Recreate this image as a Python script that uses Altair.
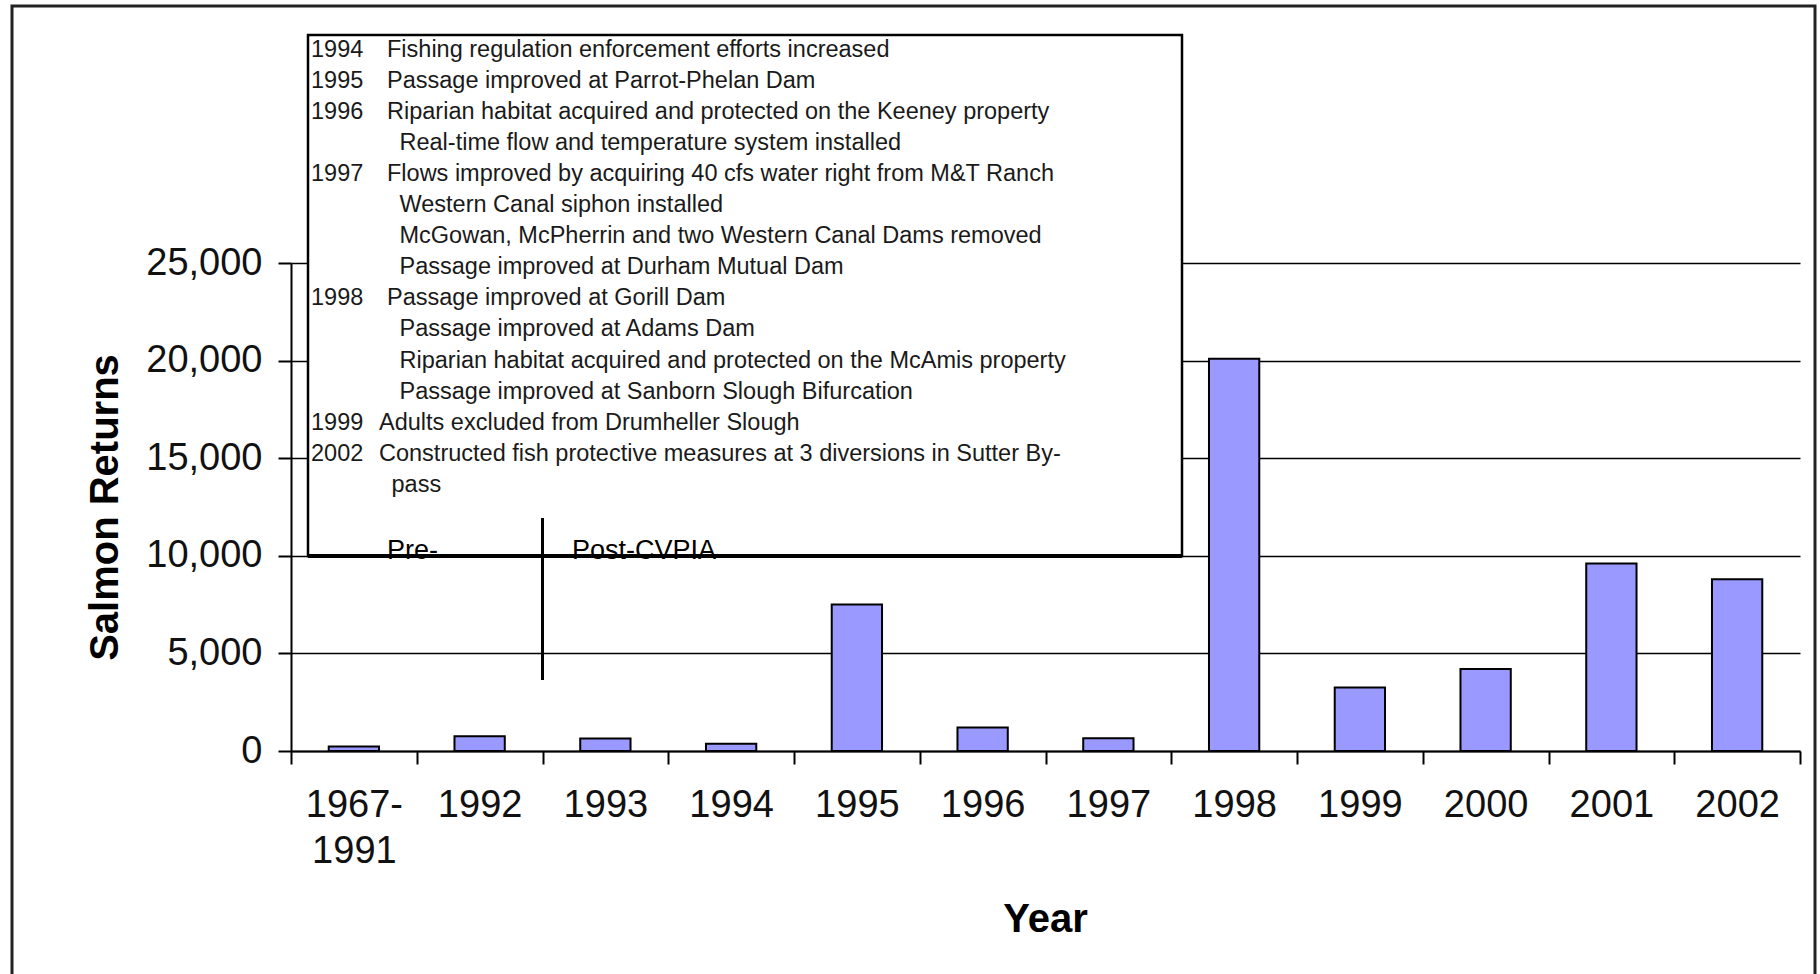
import altair as alt
import pandas as pd

# Salmon returns by year (first category is the 1967-1991 average)
years = ["1967-1991", "1992", "1993", "1994", "1995", "1996",
         "1997", "1998", "1999", "2000", "2001", "2002"]
salmon_returns = [230, 760, 640, 370, 7500, 1200, 650, 20100, 3250, 4200, 9600, 8800]
y_ticks = [0, 5000, 10000, 15000, 20000, 25000]

# Restoration actions listed in the annotation box
note_years = ["1994", "1995", "1996", "1997", "1998", "1999", "2002"]
note_items = [
    ["Fishing regulation enforcement efforts increased"],
    ["Passage improved at Parrot-Phelan Dam"],
    ["Riparian habitat acquired and protected on the Keeney property",
     "Real-time flow and temperature system installed"],
    ["Flows improved by acquiring 40 cfs water right from M&T Ranch",
     "Western Canal siphon installed",
     "McGowan, McPherrin and two Western Canal Dams removed",
     "Passage improved at Durham Mutual Dam"],
    ["Passage improved at Gorill Dam",
     "Passage improved at Adams Dam",
     "Riparian habitat acquired and protected on the McAmis property",
     "Passage improved at Sanborn Slough Bifurcation"],
    ["Adults excluded from Drumheller Slough"],
    ["Constructed fish protective measures at 3 diversions in Sutter By-",
     "pass"],
]
period_labels = ["Pre-", "Post-CVPIA"]

# ---- layout (pixels) ----
W, H = 1509, 488          # plot area
LEFT, TOP = 291, 263      # plot origin on the page
FONT = "Liberation Sans"


def px(x):
    return x - LEFT


def py(y):
    return y - TOP


one = pd.DataFrame({"k": [0]})

# outer chart frame
frame = alt.Chart(one).mark_rect(fillOpacity=0, stroke="#222222", strokeWidth=3).encode(
    x=alt.value(px(12)), x2=alt.value(px(1815)),
    y=alt.value(py(6)), y2=alt.value(py(995)),
)

# bars
bars_df = pd.DataFrame({"Year": years, "Returns": salmon_returns})
bars = alt.Chart(bars_df).mark_bar(
    width=alt.RelativeBandSize(0.4), color="#9999FF", stroke="black", strokeWidth=2
).encode(
    x=alt.X("Year:N", sort=years,
            scale=alt.Scale(domain=years, paddingInner=0, paddingOuter=0),
            axis=alt.Axis(
                title="Year", labelFontSize=38, labelColor="#111111", labelAngle=0,
                labelPadding=22, labelLineHeight=46,
                labelExpr="datum.value == '1967-1991' ? ['1967-', '1991'] : datum.label",
                tickBand="extent", tickSize=13, tickWidth=2, tickColor="black",
                domainColor="black", domainWidth=2, grid=False,
                titleFontSize=40, titleFontWeight="bold", titleColor="black",
                titleX=754, titleY=180, titleAlign="center", titleBaseline="alphabetic",
            )),
    y=alt.Y("Returns:Q",
            scale=alt.Scale(domain=[0, 25000], nice=False),
            axis=alt.Axis(
                title="Salmon Returns", values=y_ticks,
                labelExpr="format(datum.value, ',')",
                labelFontSize=38, labelColor="#111111", labelPadding=16,
                tickSize=13, tickWidth=2, tickColor="black",
                domainColor="black", domainWidth=2,
                grid=True, gridColor="black", gridWidth=1.5,
                titleFontSize=40, titleFontWeight="bold", titleColor="black",
                titleAngle=270, titleX=-174, titleY=244,
                titleAlign="center", titleBaseline="alphabetic", zindex=0,
            )),
)

# annotation box
box = alt.Chart(one).mark_rect(fill="white", stroke="black", strokeWidth=2.5).encode(
    x=alt.value(px(308)), x2=alt.value(px(1182)),
    y=alt.value(py(35)), y2=alt.value(py(556)),
)

# note lines: year column plus description column
rows = []
line = 0
for yr, items in zip(note_years, note_items):
    first_x = 379 if yr in ("1999", "2002") else 387
    for j, t in enumerate(items):
        rows.append({
            "year": yr if j == 0 else "",
            "text": t,
            "tx": px(first_x + (0 if j == 0 else 12.5)),
            "yx": px(311),
            "ty": py(56.5 + 31.1 * line),
        })
        line += 1
notes_df = pd.DataFrame(rows)

note_year_text = alt.Chart(notes_df).mark_text(
    align="left", baseline="alphabetic", fontSize=23.5, color="#1a1a1a", font=FONT
).encode(
    x=alt.X("yx:Q", scale=None, axis=None),
    y=alt.Y("ty:Q", scale=None, axis=None),
    text="year:N",
)

note_desc_text = alt.Chart(notes_df).mark_text(
    align="left", baseline="alphabetic", fontSize=23.5, color="#1a1a1a", font=FONT
).encode(
    x=alt.X("tx:Q", scale=None, axis=None),
    y=alt.Y("ty:Q", scale=None, axis=None),
    text="text:N",
)

# pre / post period labels sitting on the box edge
period_df = pd.DataFrame({"label": period_labels, "lx": [px(387), px(572)]})
period_text = alt.Chart(period_df).mark_text(
    align="left", baseline="alphabetic", fontSize=27, color="black", font=FONT
).encode(
    x=alt.X("lx:Q", scale=None, axis=None),
    y=alt.value(py(559)),
    text="label:N",
)

# thick lower edge of the box
box_bottom = alt.Chart(one).mark_rule(color="black", strokeWidth=4).encode(
    x=alt.value(px(308)), x2=alt.value(px(1182)), y=alt.value(py(556)),
)

# divider between pre- and post-CVPIA years
divider = alt.Chart(one).mark_rule(color="black", strokeWidth=3).encode(
    x=alt.XDatum("1993", bandPosition=0),
    y=alt.value(py(518)), y2=alt.value(py(680)),
)

chart = alt.layer(
    frame, bars, box, note_year_text, note_desc_text, period_text, box_bottom, divider
).properties(
    width=W, height=H,
    padding={"left": LEFT, "top": TOP, "right": 1820 - LEFT - W, "bottom": 974 - TOP - H},
    autosize=alt.AutoSizeParams(type="none"),
    background="white",
).configure(font=FONT).configure_view(strokeWidth=0)

chart.save("out.html", embed_options={"renderer": "svg", "actions": False})
